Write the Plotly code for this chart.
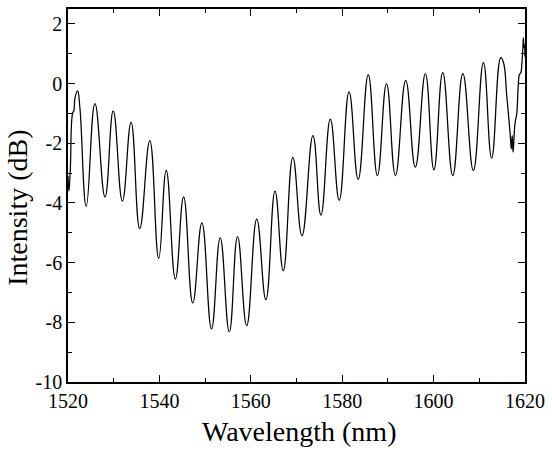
import plotly.graph_objects as go

# Extrema / sample points
wavelength_nm = [
    1520.0, 1520.2, 1520.5, 1521.0, 1521.3, 1521.5, 1522.1, 1522.6,
    1524.0, 1525.9, 1528.1, 1529.9, 1531.9, 1533.8, 1535.7, 1537.9,
    1539.85, 1541.5, 1543.5, 1545.3, 1547.3, 1549.3, 1551.4, 1553.3,
    1555.3, 1557.1, 1559.1, 1561.3, 1563.3, 1565.3, 1567.1, 1569.2,
    1571.2, 1573.6, 1575.35, 1577.4, 1579.35, 1581.5, 1583.5, 1585.7,
    1587.7, 1589.7, 1591.65, 1593.9, 1596.0, 1598.2, 1600.07, 1602.0,
    1604.2, 1606.4, 1608.7, 1610.9, 1612.7, 1614.7, 1615.3, 1616.0,
    1616.5, 1616.8, 1617.0, 1617.2, 1617.4, 1617.8, 1618.2, 1618.5,
    1618.8, 1619.1, 1619.3, 1619.5, 1619.65, 1619.8, 1619.9, 1620.0,
]
intensity_db = [
    -3.1, -3.6, -2.9, -1.0, -0.9, -0.5, -0.24, -0.8,
    -4.11, -0.67, -3.8, -0.91, -3.94, -1.3, -4.86, -1.91,
    -5.86, -2.91, -6.55, -3.8, -7.35, -4.67, -8.22, -5.17,
    -8.32, -5.13, -8.11, -4.54, -7.24, -3.6, -6.27, -2.47,
    -5.1, -1.74, -4.41, -1.19, -3.91, -0.28, -3.21, 0.29,
    -3.08, 0.0, -3.08, 0.11, -2.8, 0.33, -2.89, 0.37,
    -3.08, 0.33, -2.91, 0.7, -2.5, 0.87, 0.7, -0.4,
    -1.24, -1.8, -2.19, -1.74, -2.3, -1.35, -1.0, -0.13,
    0.31, 0.37, 0.64, 1.09, 1.53, 1.2, 1.3, 0.9,
]

x_tickvals = [1520, 1540, 1560, 1580, 1600, 1620]
x_ticktext = ["1520", "1540", "1560", "1580", "1600", "1620"]
y_tickvals = [-10, -8, -6, -4, -2, 0, 2]
y_ticktext = ["-10", "-8", "-6", "-4", "-2", "0", "2"]
x_title = "Wavelength (nm)"
y_title = "Intensity (dB)"

FONT = "Liberation Serif, Times New Roman, serif"

fig = go.Figure()
fig.add_trace(go.Scatter(
    x=wavelength_nm, y=intensity_db, mode="lines",
    line=dict(color="black", width=1.25, shape="spline", smoothing=1.3),
    hoverinfo="skip", showlegend=False,
))

axis_common = dict(
    showline=True, linecolor="black", linewidth=1.5, mirror="allticks",
    ticks="inside", ticklen=7, tickwidth=1.2, tickcolor="black",
    showgrid=False, zeroline=False,
    tickfont=dict(family=FONT, size=20, color="black"),
)

fig.update_xaxes(
    range=[1520, 1620], tickvals=x_tickvals, ticktext=x_ticktext,
    minor=dict(dtick=10, ticks="inside", ticklen=4, tickwidth=1.2, tickcolor="black"),
    **axis_common,
)
fig.update_yaxes(
    range=[-10, 2.5], tickvals=y_tickvals, ticktext=y_ticktext,
    minor=dict(dtick=1, ticks="inside", ticklen=4, tickwidth=1.2, tickcolor="black"),
    **axis_common,
)

fig.add_annotation(
    text=x_title, xref="paper", yref="paper", x=0.505, y=-0.133,
    xanchor="center", yanchor="middle", showarrow=False,
    font=dict(family=FONT, size=28, color="black"),
)
fig.add_annotation(
    text=y_title, xref="paper", yref="paper", x=0, y=0.467, xshift=-50,
    textangle=-90, xanchor="center", yanchor="middle", showarrow=False,
    font=dict(family=FONT, size=28, color="black"),
)

fig.update_layout(
    width=552, height=452,
    margin=dict(l=68, r=24, t=7, b=70),
    paper_bgcolor="white", plot_bgcolor="white",
    font=dict(family=FONT, color="black"),
)

fig.write_html("out.html")
